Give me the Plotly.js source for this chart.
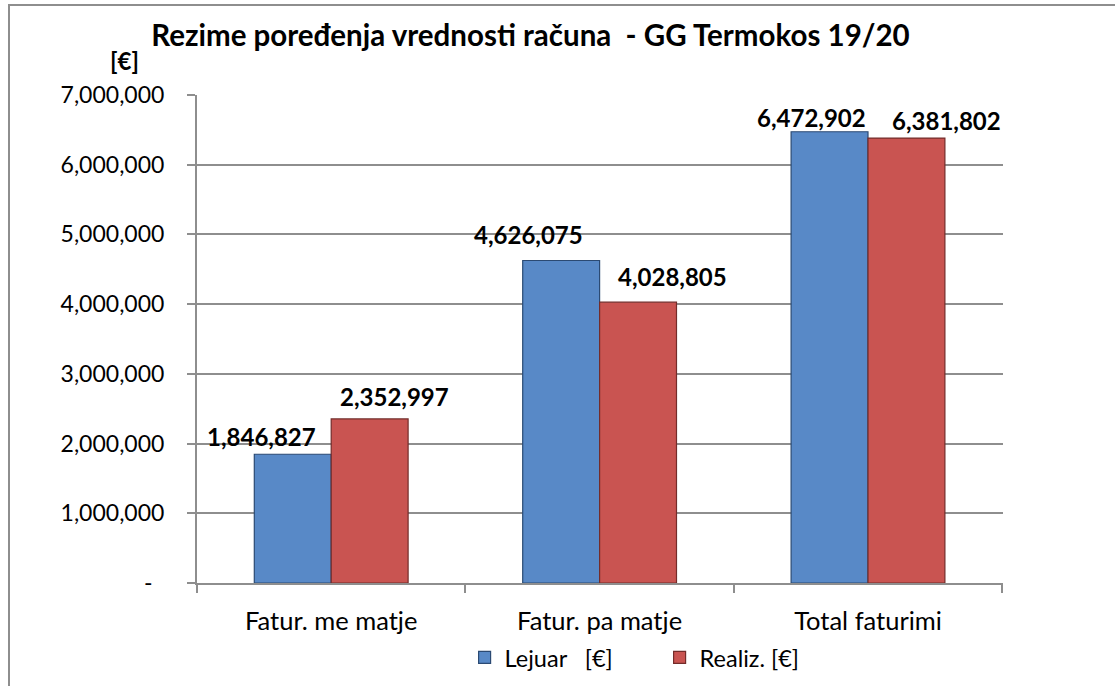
<!DOCTYPE html>
<html>
<head>
<meta charset="utf-8">
<script src="https://cdn.plot.ly/plotly-3.0.1.min.js"></script>
<style>
  html, body { margin: 0; padding: 0; background: #fff; }
  #frame { position: absolute; left: 8px; top: 4px; border-left: 2px solid #8e8e8e; border-top: 2px solid #8e8e8e; }
  #chart { width: 1105px; height: 680px; }
</style>
</head>
<body>
<div id="frame"><div id="chart"></div></div>
<script>
// ---- data ----
const categories = ["Fatur. me matje", "Fatur. pa matje", "Total faturimi"];
const lejuarValues = [1846827, 4626075, 6472902];
const realizValues = [2352997, 4028805, 6381802];
const seriesNames = ["Lejuar\u00a0\u00a0\u00a0[€]", "Realiz. [€]"];
const yTickValues = [0, 1000000, 2000000, 3000000, 4000000, 5000000, 6000000, 7000000];
const yTickLabels = ["-\u00a0\u00a0", "1,000,000", "2,000,000", "3,000,000", "4,000,000", "5,000,000", "6,000,000", "7,000,000"];
const titleText = "Rezime poređenja vrednosti računa\u00a0\u00a0- GG Termokos 19/20";
const unitText = "[€]";

// ---- styling ----
const FONT = "Lato, 'Open Sans', sans-serif";
const blue = "#5889c7", blueEdge = "#2b4a73";
const red = "#c95451", redEdge = "#732c2a";

const traces = [
  { type: "bar", name: seriesNames[0], x: categories, y: lejuarValues,
    marker: { color: blue, line: { color: blueEdge, width: 1.2 } }, hoverinfo: "x+y" },
  { type: "bar", name: seriesNames[1], x: categories, y: realizValues,
    marker: { color: red, line: { color: redEdge, width: 1.2 } }, hoverinfo: "x+y" }
];

// data-label offsets (px) relative to each bar's top centre
const labelShiftX = [[-31, -33, -18], [25, 34, 40]];
const labelShiftY = [[18, 26, 14], [22, 26, 18]];
const barHalfOffset = 38.5; // bar centre distance from category centre (px)
const fmt = v => v.toLocaleString("en-US");

const annotations = [];
[lejuarValues, realizValues].forEach((vals, s) => {
  vals.forEach((v, i) => {
    annotations.push({
      x: categories[i], y: v, xref: "x", yref: "y",
      text: "<b>" + fmt(v) + "</b>", showarrow: false,
      xshift: labelShiftX[s][i] + (s === 0 ? -barHalfOffset : barHalfOffset),
      yshift: labelShiftY[s][i], yanchor: "middle", xanchor: "center",
      font: { family: FONT, size: 24, color: "#000" }
    });
  });
});
annotations.push({
  xref: "paper", yref: "paper", x: -0.09, y: 1.07, text: "<b>" + unitText + "</b>",
  showarrow: false, xanchor: "center", yanchor: "middle",
  font: { family: FONT, size: 24, color: "#000" }
});

const layout = {
  width: 1105, height: 680,
  margin: { l: 187, r: 112, t: 89, b: 103, autoexpand: false },
  paper_bgcolor: "#fff", plot_bgcolor: "#fff",
  font: { family: FONT, color: "#000" },
  title: { text: "<b>" + titleText + "</b>", xref: "container", yref: "container",
    x: 0.471, y: 0.957, xanchor: "center", yanchor: "middle",
    font: { family: FONT, size: 29.5, color: "#000" } },
  barmode: "group", bargap: 0.427, bargroupgap: 0,
  showlegend: true,
  legend: { orientation: "h", x: 0.332, y: -0.153, xanchor: "left", yanchor: "middle",
    font: { family: FONT, size: 23.5, color: "#000" }, entrywidth: 150, entrywidthmode: "pixels",
    traceorder: "normal", itemclick: false, itemdoubleclick: false },
  xaxis: { type: "category", tickson: "boundaries", ticks: "outside", ticklen: 8, tickwidth: 2,
    tickcolor: "#8e8e8e", showline: true, linecolor: "#8e8e8e", linewidth: 2,
    showgrid: false, ticklabelstandoff: 14, tickfont: { family: FONT, size: 25.5, color: "#000" } },
  yaxis: { range: [0, 7000000], tickvals: yTickValues, ticktext: yTickLabels,
    ticks: "outside", ticklen: 8, tickwidth: 2, tickcolor: "#8e8e8e",
    showline: true, linecolor: "#8e8e8e", linewidth: 2,
    showgrid: true, gridcolor: "#8e8e8e", gridwidth: 2, zeroline: false,
    ticklabelstandoff: 18, tickfont: { family: FONT, size: 23, color: "#000" } },
  annotations: annotations
};

Plotly.newPlot("chart", traces, layout, { displayModeBar: false, staticPlot: true });
</script>
</body>
</html>
